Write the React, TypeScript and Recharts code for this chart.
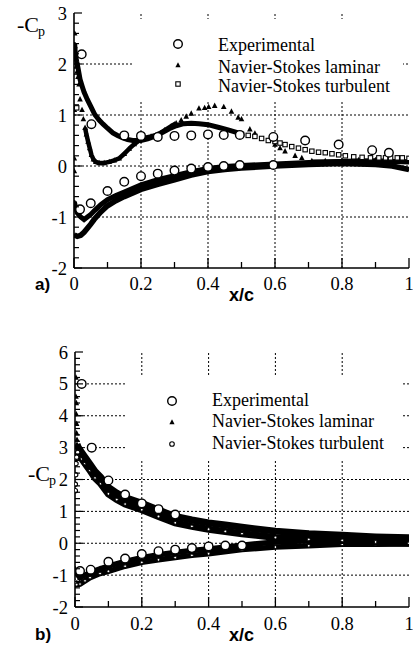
import React from 'react';
import { ScatterChart, Scatter, XAxis, YAxis, ReferenceLine, Legend } from 'recharts';

// ---------------- Panel (a) data ----------------
const aExpUpperX = [0.023, 0.052, 0.15, 0.2, 0.25, 0.3, 0.35, 0.4, 0.447, 0.495, 0.595, 0.69, 0.79, 0.89, 0.94];
const aExpUpperY = [2.19, 0.82, 0.6, 0.59, 0.57, 0.59, 0.6, 0.62, 0.61, 0.61, 0.57, 0.5, 0.42, 0.31, 0.26];
const aExpLowerX = [0.018, 0.05, 0.1, 0.15, 0.2, 0.25, 0.3, 0.35, 0.4, 0.447, 0.495, 0.595];
const aExpLowerY = [-0.85, -0.73, -0.49, -0.31, -0.2, -0.15, -0.09, -0.05, -0.02, 0.0, 0.02, 0.02];

const aTurbUpperDenseX = [0.002, 0.004, 0.008, 0.012, 0.018, 0.025, 0.03, 0.04, 0.05, 0.062, 0.075, 0.087, 0.1, 0.116, 0.13, 0.146, 0.16, 0.175, 0.2, 0.22, 0.244, 0.265, 0.284, 0.305, 0.328, 0.35, 0.373, 0.4, 0.43, 0.46, 0.49];
const aTurbUpperDenseY = [2.4, 2.2, 2.05, 1.92, 1.7, 1.55, 1.45, 1.3, 1.17, 1.01, 0.9, 0.82, 0.74, 0.65, 0.6, 0.55, 0.52, 0.5, 0.5, 0.53, 0.59, 0.66, 0.73, 0.79, 0.83, 0.84, 0.83, 0.81, 0.76, 0.71, 0.65];
const aTurbUpperAftX = [0.5, 0.52, 0.54, 0.56, 0.58, 0.6, 0.615, 0.63, 0.65, 0.67, 0.69, 0.71, 0.73, 0.75, 0.77, 0.79, 0.81, 0.835, 0.86, 0.885, 0.91, 0.93, 0.945, 0.965, 0.98, 1.0];
const aTurbUpperAftY = [0.62, 0.6, 0.58, 0.54, 0.5, 0.48, 0.45, 0.42, 0.38, 0.35, 0.32, 0.29, 0.27, 0.26, 0.24, 0.22, 0.2, 0.18, 0.17, 0.16, 0.16, 0.16, 0.16, 0.16, 0.16, 0.15];
const aTurbLeX = [0.008];
const aTurbLeY = [1.14];

const aLamLeX = [0.002, 0.003, 0.005, 0.007, 0.009, 0.012, 0.015, 0.018, 0.024, 0.028, 0.001, 0.001, 0.001];
const aLamLeY = [2.6, 2.35, 2.1, 1.95, 1.85, 1.75, 1.6, 1.31, 1.1, 0.92, 1.1, 0.15, -0.1];
const aLamUpperDenseX = [0.033, 0.037, 0.042, 0.047, 0.052, 0.058, 0.065, 0.075, 0.09, 0.105, 0.12, 0.135, 0.15, 0.165, 0.18, 0.195, 0.21, 0.23, 0.25, 0.27, 0.29, 0.305];
const aLamUpperDenseY = [0.75, 0.62, 0.48, 0.35, 0.22, 0.13, 0.08, 0.06, 0.06, 0.08, 0.11, 0.15, 0.24, 0.34, 0.43, 0.5, 0.55, 0.58, 0.62, 0.7, 0.78, 0.84];
const aLamSepX = [0.32, 0.335, 0.35, 0.373, 0.39, 0.402, 0.42, 0.447, 0.47, 0.49, 0.5, 0.525, 0.54, 0.6, 0.615, 0.63, 0.66, 0.68];
const aLamSepY = [0.9, 0.97, 1.03, 1.13, 1.14, 1.16, 1.18, 1.16, 1.07, 0.95, 0.92, 0.72, 0.64, 0.42, 0.35, 0.29, 0.2, 0.16];
const aLamTrailX = [0.71, 0.75, 0.8, 0.85, 0.9, 0.95, 1.0];
const aLamTrailY = [0.1, 0.1, 0.11, 0.12, 0.12, 0.11, 0.1];

const aLamLowerX = [0.001, 0.005, 0.01, 0.02, 0.03, 0.04, 0.05, 0.062, 0.08, 0.1, 0.125, 0.15, 0.2, 0.25, 0.3, 0.35, 0.4, 0.45, 0.5, 0.6, 0.7, 0.8, 0.9, 1.0];
const aLamLowerY = [-0.7, -0.82, -0.92, -1.0, -1.05, -1.0, -0.95, -0.87, -0.76, -0.66, -0.58, -0.51, -0.37, -0.27, -0.19, -0.11, -0.05, -0.01, 0.01, 0.04, 0.07, 0.09, 0.1, 0.08];
const aTurbLowerX = [0.001, 0.01, 0.02, 0.03, 0.04, 0.05, 0.06, 0.08, 0.1, 0.125, 0.15, 0.2, 0.25, 0.3, 0.35, 0.4, 0.45, 0.5, 0.6, 0.7, 0.8, 0.9, 0.95, 1.0];
const aTurbLowerY = [-1.35, -1.38, -1.36, -1.3, -1.22, -1.14, -1.05, -0.9, -0.78, -0.68, -0.6, -0.46, -0.36, -0.27, -0.18, -0.11, -0.07, -0.04, 0.0, 0.03, 0.05, 0.03, 0.0, -0.07];

// ---------------- Panel (b) data ----------------
const bExpUpperX = [0.02, 0.05, 0.1, 0.15, 0.2, 0.25, 0.3];
const bExpUpperY = [5.0, 3.0, 1.97, 1.53, 1.25, 1.07, 0.9];
const bExpLowerX = [0.015, 0.047, 0.1, 0.15, 0.2, 0.25, 0.3, 0.35, 0.4, 0.45, 0.5];
const bExpLowerY = [-0.87, -0.83, -0.58, -0.48, -0.34, -0.25, -0.2, -0.15, -0.1, -0.07, -0.07];

const bLamLeX = [0.003, 0.003, 0.004, 0.004, 0.005, 0.005, 0.006];
const bLamLeY = [5.2, 4.6, 4.4, 4.05, 3.75, 3.45, 3.25];
const bTurbLeX = [0.001, 0.001, 0.002, 0.003, 0.005, 0.008];
const bTurbLeY = [1.65, 1.85, 2.15, 2.5, 2.7, 2.85];

const bUpperX = [0.006, 0.01, 0.02, 0.03, 0.045, 0.06, 0.077, 0.1, 0.125, 0.15, 0.2, 0.25, 0.3, 0.35, 0.4, 0.45, 0.5, 0.6, 0.7, 0.8, 0.9, 1.0];
const bLamUpperY = [3.1, 3.0, 2.85, 2.7, 2.48, 2.25, 2.07, 1.75, 1.57, 1.43, 1.25, 1.04, 0.84, 0.73, 0.64, 0.57, 0.5, 0.38, 0.3, 0.25, 0.2, 0.17];
const bTurbUpperY = [2.9, 2.8, 2.65, 2.5, 2.28, 2.05, 1.87, 1.55, 1.37, 1.23, 1.05, 0.84, 0.64, 0.53, 0.44, 0.37, 0.3, 0.18, 0.12, 0.09, 0.04, 0.0];

const bLowerX = [0.001, 0.005, 0.015, 0.03, 0.045, 0.075, 0.1, 0.15, 0.2, 0.25, 0.3, 0.35, 0.4, 0.5, 0.6, 0.7, 0.8, 0.9, 1.0];
const bLamLowerY = [-0.8, -0.95, -1.08, -1.0, -0.92, -0.8, -0.72, -0.57, -0.45, -0.36, -0.29, -0.23, -0.18, -0.06, 0.04, 0.08, 0.12, 0.12, 0.12];
const bTurbLowerY = [-1.2, -1.3, -1.28, -1.18, -1.08, -0.95, -0.88, -0.72, -0.6, -0.52, -0.45, -0.38, -0.33, -0.2, -0.12, -0.08, -0.03, -0.03, -0.02];

// ---------------- axes ----------------
const xTicks = [0, 0.1, 0.2, 0.3, 0.4, 0.5, 0.6, 0.7, 0.8, 0.9, 1];
const aYTicks = [-2, -1.8, -1.6, -1.4, -1.2, -1, -0.8, -0.6, -0.4, -0.2, 0, 0.2, 0.4, 0.6, 0.8, 1, 1.2, 1.4, 1.6, 1.8, 2, 2.2, 2.4, 2.6, 2.8, 3];
const bYTicks = [-2, -1.8, -1.6, -1.4, -1.2, -1, -0.8, -0.6, -0.4, -0.2, 0, 0.2, 0.4, 0.6, 0.8, 1, 1.2, 1.4, 1.6, 1.8, 2, 2.2, 2.4, 2.6, 2.8, 3, 3.2, 3.4, 3.6, 3.8, 4, 4.2, 4.4, 4.6, 4.8, 5, 5.2, 5.4, 5.6, 5.8, 6];
const gridX = [0.2, 0.4, 0.6, 0.8];
const aGridY = [-1, 0, 1, 2];
const bGridY = [-1, 0, 1, 2, 3, 4, 5];

const legendLabels = ['Experimental', 'Navier-Stokes laminar', 'Navier-Stokes turbulent'];

const zip = (xs: number[], ys: number[]) => xs.map((x, i) => ({ x, y: ys[i] }));

const SERIF = '"Liberation Serif", "Times New Roman", serif';
const SANS = '"Liberation Sans", Arial, sans-serif';
const TICK_FS = 18.5;

const isMajorX = (v: number) => Math.abs(v / 0.2 - Math.round(v / 0.2)) < 1e-6;
const isMajorY = (v: number) => Math.abs(v - Math.round(v)) < 1e-6;

const bottomTick = (labelDy: number) => (p: any) => {
  const { x, y, payload } = p;
  const v = payload.value as number;
  const m = isMajorX(v);
  return (
    <g>
      <line x1={x} x2={x} y1={y} y2={y - (m ? 10 : 6)} stroke="#000" strokeWidth={1.3} />
      {m && (
        <text x={x} y={y + labelDy} textAnchor="middle" fontFamily={SERIF} fontSize={TICK_FS} fill="#000">
          {String(v)}
        </text>
      )}
    </g>
  );
};
const topTick = (p: any) => {
  const { x, y, payload } = p;
  const m = isMajorX(payload.value);
  return <line x1={x} x2={x} y1={y} y2={y + (m ? 7 : 6)} stroke="#000" strokeWidth={1.3} />;
};
const leftTick = (p: any) => {
  const { x, y, payload } = p;
  const v = payload.value as number;
  const m = isMajorY(v);
  return (
    <g>
      <line x1={x} x2={x + (m ? 8 : 5)} y1={y} y2={y} stroke="#000" strokeWidth={1.2} />
      {m && (
        <text x={x - 7} y={y + 6.5} textAnchor="end" fontFamily={SERIF} fontSize={TICK_FS} fill="#000">
          {String(v)}
        </text>
      )}
    </g>
  );
};
const rightTick = (p: any) => {
  const { x, y, payload } = p;
  const m = isMajorY(payload.value);
  return <line x1={x} x2={x - (m ? 8 : 5)} y1={y} y2={y} stroke="#000" strokeWidth={1.2} />;
};

// ---------------- markers ----------------
const ExpMark = (p: any) => <circle cx={p.cx} cy={p.cy} r={4.3} fill="#fff" stroke="#000" strokeWidth={1.4} />;
const TriMark = (p: any) => (
  <path d={`M${p.cx},${p.cy - 3.2} L${p.cx + 2.8},${p.cy + 2.2} L${p.cx - 2.8},${p.cy + 2.2} Z`} fill="#000" />
);
const SqMark = (p: any) => (
  <rect x={p.cx - 2.2} y={p.cy - 2.2} width={4.4} height={4.4} fill="#fff" stroke="#000" strokeWidth={1.1} />
);
const SmallCirc = (p: any) => <circle cx={p.cx} cy={p.cy} r={2.2} fill="#fff" stroke="#000" strokeWidth={1.1} />;
const BandCirc = (p: any) => <circle cx={p.cx} cy={p.cy} r={1.4} fill="#fff" stroke="#000" strokeWidth={1} />;
const DotMark = (p: any) => <circle cx={p.cx} cy={p.cy} r={1.6} fill="#000" />;

type Row = { textY: number; markY: number; kind: string };
function LegendBox({ rows, markX, textX }: { rows: Row[]; markX: number; textX: number }) {
  return (
    <div style={{ position: 'relative', width: '100%', height: '100%', background: '#fff' }}>
      {rows.map((r, i) => (
        <React.Fragment key={i}>
          <svg style={{ position: 'absolute', left: markX - 7, top: r.markY - 7 }} width={14} height={14}>
            {r.kind === 'circle' && <circle cx={7} cy={7} r={4.3} fill="#fff" stroke="#000" strokeWidth={1.4} />}
            {r.kind === 'tri' && <path d="M7,4.2 L9.6,9.2 L4.4,9.2 Z" fill="#000" />}
            {r.kind === 'sq' && <rect x={4.8} y={4.8} width={4.4} height={4.4} fill="#fff" stroke="#000" strokeWidth={1.1} />}
            {r.kind === 'small' && <circle cx={7} cy={7} r={2.3} fill="#fff" stroke="#000" strokeWidth={1.1} />}
          </svg>
          <div
            style={{
              position: 'absolute',
              left: textX,
              top: r.textY - 10,
              height: 20,
              lineHeight: '20px',
              fontFamily: SERIF,
              fontSize: 18,
              color: '#000',
              whiteSpace: 'nowrap',
            }}
          >
            {legendLabels[i]}
          </div>
        </React.Fragment>
      ))}
    </div>
  );
}

const gridStyle = { stroke: '#000', strokeWidth: 1, strokeDasharray: '2 2' };
const frame = { stroke: '#000', strokeWidth: 1.6 };

function PanelA() {
  return (
    <ScatterChart width={413} height={310} margin={{ top: 13, right: 4, bottom: 0, left: 0 }}>
      <XAxis dataKey="x" type="number" domain={[0, 1]} ticks={xTicks} interval={0} height={42} tickSize={0} tickMargin={0} tickLine={false} axisLine={frame} tick={bottomTick(22)} allowDataOverflow />
      <XAxis xAxisId="t" orientation="top" type="number" domain={[0, 1]} ticks={xTicks} interval={0} height={0} tickSize={0} tickMargin={0} tickLine={false} axisLine={frame} tick={topTick} allowDataOverflow />
      <YAxis dataKey="y" type="number" domain={[-2, 3]} ticks={aYTicks} interval={0} width={74} tickSize={0} tickMargin={0} tickLine={false} axisLine={frame} tick={leftTick} allowDataOverflow />
      <YAxis yAxisId="r" orientation="right" type="number" domain={[-2, 3]} ticks={aYTicks} interval={0} width={0} tickSize={0} tickMargin={0} tickLine={false} axisLine={frame} tick={rightTick} allowDataOverflow />
      {gridX.map((v) => <ReferenceLine key={'gx' + v} x={v} {...gridStyle} />)}
      {aGridY.map((v) => <ReferenceLine key={'gy' + v} y={v} {...gridStyle} />)}
      <Scatter data={zip(aTurbLowerX, aTurbLowerY)} shape={DotMark} line={{ stroke: '#000', strokeWidth: 5.5 }} isAnimationActive={false} />
      <Scatter data={zip(aLamLowerX, aLamLowerY)} shape={DotMark} line={{ stroke: '#000', strokeWidth: 5 }} isAnimationActive={false} />
      <Scatter data={zip(aLamTrailX, aLamTrailY)} shape={TriMark} line={{ stroke: '#000', strokeWidth: 3 }} isAnimationActive={false} />
      <Scatter data={zip(aLamUpperDenseX, aLamUpperDenseY)} shape={TriMark} line={{ stroke: '#000', strokeWidth: 4.5 }} isAnimationActive={false} />
      <Scatter data={zip(aTurbUpperDenseX, aTurbUpperDenseY)} shape={DotMark} line={{ stroke: '#000', strokeWidth: 5 }} isAnimationActive={false} />
      <Scatter data={zip(aLamLeX, aLamLeY)} shape={TriMark} isAnimationActive={false} />
      <Scatter data={zip(aLamSepX, aLamSepY)} shape={TriMark} isAnimationActive={false} />
      <Scatter data={zip(aTurbLeX, aTurbLeY)} shape={SqMark} isAnimationActive={false} />
      <Scatter data={zip(aTurbUpperAftX, aTurbUpperAftY)} shape={SqMark} isAnimationActive={false} />
      <Scatter data={zip(aExpLowerX, aExpLowerY)} shape={ExpMark} isAnimationActive={false} />
      <Scatter data={zip(aExpUpperX, aExpUpperY)} shape={ExpMark} isAnimationActive={false} />
      <Legend
        layout="horizontal"
        verticalAlign="middle"
        align="center"
        wrapperStyle={{ left: 133, top: 19, width: 270, height: 81 }}
        content={() => (
          <LegendBox
            markX={45}
            textX={85}
            rows={[
              { textY: 25.5, markY: 24.5, kind: 'circle' },
              { textY: 47.5, markY: 46, kind: 'tri' },
              { textY: 66.5, markY: 64.5, kind: 'sq' },
            ]}
          />
        )}
      />
    </ScatterChart>
  );
}

function PanelB() {
  return (
    <ScatterChart width={413} height={315} margin={{ top: 22, right: 4, bottom: 0, left: 0 }}>
      <XAxis dataKey="x" type="number" domain={[0, 1]} ticks={xTicks} interval={0} height={38} tickSize={0} tickMargin={0} tickLine={false} axisLine={frame} tick={bottomTick(23)} allowDataOverflow />
      <XAxis xAxisId="t" orientation="top" type="number" domain={[0, 1]} ticks={xTicks} interval={0} height={0} tickSize={0} tickMargin={0} tickLine={false} axisLine={frame} tick={topTick} allowDataOverflow />
      <YAxis dataKey="y" type="number" domain={[-2, 6]} ticks={bYTicks} interval={0} width={75} tickSize={0} tickMargin={0} tickLine={false} axisLine={frame} tick={leftTick} allowDataOverflow />
      <YAxis yAxisId="r" orientation="right" type="number" domain={[-2, 6]} ticks={bYTicks} interval={0} width={0} tickSize={0} tickMargin={0} tickLine={false} axisLine={frame} tick={rightTick} allowDataOverflow />
      {gridX.map((v) => <ReferenceLine key={'gx' + v} x={v} {...gridStyle} />)}
      {bGridY.map((v) => <ReferenceLine key={'gy' + v} y={v} {...gridStyle} />)}
      <Scatter data={zip(bLowerX, bTurbLowerY)} shape={BandCirc} line={{ stroke: '#000', strokeWidth: 5.5 }} isAnimationActive={false} />
      <Scatter data={zip(bLowerX, bLamLowerY)} shape={TriMark} line={{ stroke: '#000', strokeWidth: 5.5 }} isAnimationActive={false} />
      <Scatter data={zip(bUpperX, bTurbUpperY)} shape={BandCirc} line={{ stroke: '#000', strokeWidth: 7 }} isAnimationActive={false} />
      <Scatter data={zip(bUpperX, bLamUpperY)} shape={TriMark} line={{ stroke: '#000', strokeWidth: 7 }} isAnimationActive={false} />
      <Scatter data={zip(bLamLeX, bLamLeY)} shape={TriMark} isAnimationActive={false} />
      <Scatter data={zip(bTurbLeX, bTurbLeY)} shape={SmallCirc} isAnimationActive={false} />
      <Scatter data={zip(bExpLowerX, bExpLowerY)} shape={ExpMark} isAnimationActive={false} />
      <Scatter data={zip(bExpUpperX, bExpUpperY)} shape={ExpMark} isAnimationActive={false} />
      <Legend
        layout="horizontal"
        verticalAlign="middle"
        align="center"
        wrapperStyle={{ left: 125, top: 47, width: 278, height: 83 }}
        content={() => (
          <LegendBox
            markX={47}
            textX={87}
            rows={[
              { textY: 23, markY: 23.5, kind: 'circle' },
              { textY: 44, markY: 45, kind: 'tri' },
              { textY: 65.5, markY: 67, kind: 'small' },
            ]}
          />
        )}
      />
    </ScatterChart>
  );
}

export default function App() {
  return (
    <div style={{ position: 'absolute', left: 0, top: 0, width: 413, height: 645, background: '#fff', overflow: 'hidden' }}>
      <div style={{ position: 'absolute', left: 0, top: 0 }}>
        <PanelA />
      </div>
      <div style={{ position: 'absolute', left: 0, top: 330 }}>
        <PanelB />
      </div>
      <svg width={413} height={645} style={{ position: 'absolute', left: 0, top: 0, pointerEvents: 'none' }}>
        <text x={17} y={32} fontFamily={SERIF} fontSize={22} fill="#000">-C</text>
        <text x={38} y={36} fontFamily={SERIF} fontSize={14} fill="#000">p</text>
        <text x={35} y={290} fontFamily={SANS} fontWeight="bold" fontSize={17} fill="#000">a)</text>
        <text x={241.5} y={301} textAnchor="middle" fontFamily={SANS} fontWeight="bold" fontSize={18} fill="#000">x/c</text>
        <text x={28} y={481} fontFamily={SERIF} fontSize={22} fill="#000">-C</text>
        <text x={49} y={485} fontFamily={SERIF} fontSize={14} fill="#000">p</text>
        <text x={35} y={640} fontFamily={SANS} fontWeight="bold" fontSize={17} fill="#000">b)</text>
        <text x={241.5} y={641} textAnchor="middle" fontFamily={SANS} fontWeight="bold" fontSize={18} fill="#000">x/c</text>
      </svg>
    </div>
  );
}
